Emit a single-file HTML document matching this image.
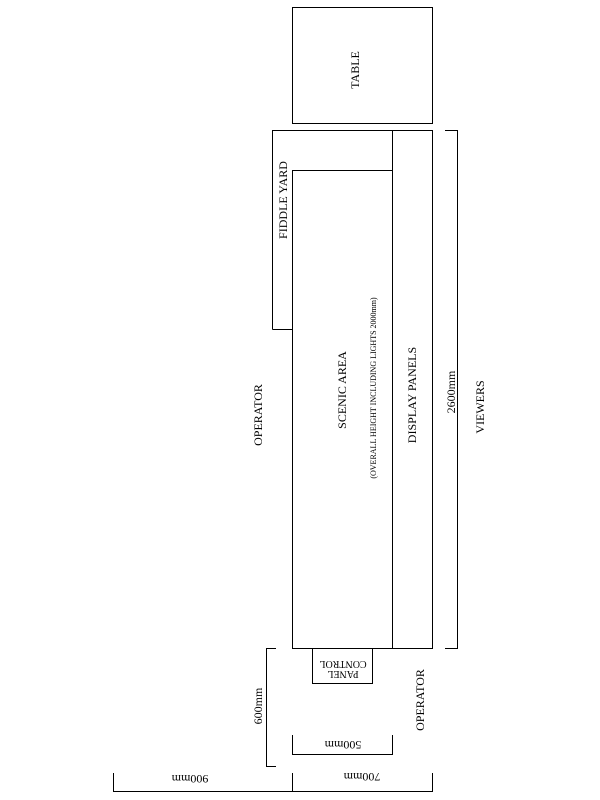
<!DOCTYPE html>
<html><head><style>html,body{margin:0;padding:0;background:#fff}svg{display:block}</style></head><body>
<svg width="600" height="800" xmlns="http://www.w3.org/2000/svg" font-family="Liberation Serif, serif" font-size="12" fill="none" stroke="#000" stroke-width="1">
<rect x="292.5" y="7.5" width="140" height="116"/>
<path d="M272.5 329.5 V130.5 H432.5 V648.5 H292.5 V329.5 H272.5"/>
<path d="M292.5 329.5 V170.5 H392.5"/>
<path d="M392.5 130.5 V648.5"/>
<path d="M445 130.5 H457.5 V648.5 H445"/>
<rect x="312.5" y="648.5" width="60" height="35"/>
<path d="M276 648.5 H266.5 V766.5 H276"/>
<path d="M292.5 735 V754.5 H392.5 V735"/>
<path d="M292.5 773 V791.5 H432.5 V773"/>
<path d="M113.5 773 V791.5 H292.5"/>
<g fill="#000" stroke="none" text-anchor="middle">
<text transform="translate(359,70) rotate(-90)">TABLE</text>
<text transform="translate(287,200) rotate(-90)">FIDDLE YARD</text>
<text transform="translate(346,390) rotate(-90)">SCENIC AREA</text>
<text transform="translate(376,388) rotate(-90)" font-size="8">(OVERALL HEIGHT INCLUDING LIGHTS 2000mm)</text>
<text transform="translate(416,395) rotate(-90)">DISPLAY PANELS</text>
<text transform="translate(455,392) rotate(-90)">2600mm</text>
<text transform="translate(484,407) rotate(-90)">VIEWERS</text>
<text transform="translate(262,415) rotate(-90)">OPERATOR</text>
<text transform="translate(424,700) rotate(-90)">OPERATOR</text>
<text transform="translate(262,706) rotate(-90)">600mm</text>
<text transform="translate(343,661) rotate(180)" font-size="10">CONTROL</text>
<text transform="translate(343,671) rotate(180)" font-size="10">PANEL</text>
<text transform="translate(343,741) rotate(180)">500mm</text>
<text transform="translate(362,773) rotate(180)">700mm</text>
<text transform="translate(190,775) rotate(180)">900mm</text>
</g>
</svg>
</body></html>
